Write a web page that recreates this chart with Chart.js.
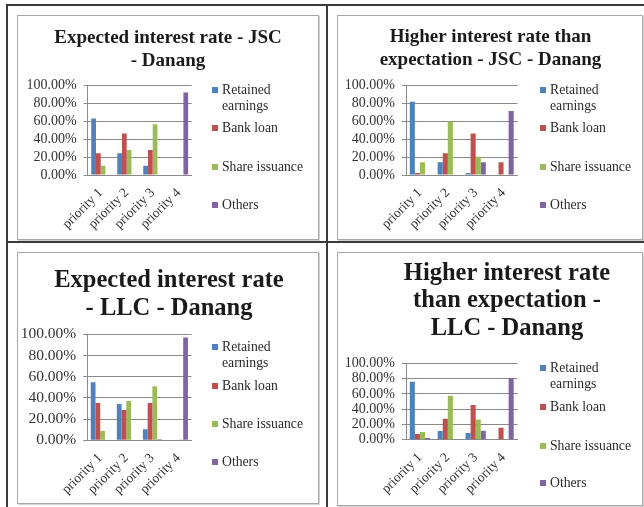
<!DOCTYPE html>
<html>
<head>
<meta charset="utf-8">
<script src="https://cdn.jsdelivr.net/npm/chart.js@4.4.1/dist/chart.umd.min.js"></script>
<style>
  html, body { margin: 0; padding: 0; background: #fff; }
  body { width: 644px; height: 507px; position: relative; overflow: hidden; }
  .rule { position: absolute; background: #3a3a3a; }
  .box { position: absolute; border: 1px solid #a8a8a8; box-shadow: 1px 1px 0 #d4d4d4; box-sizing: border-box; }
  canvas { position: absolute; }
</style>
</head>
<body>
<div class="rule" style="left:6px;top:4px;width:638px;height:2px"></div>
<div class="rule" style="left:6px;top:4px;width:2px;height:503px"></div>
<div class="rule" style="left:326px;top:4px;width:2px;height:503px"></div>
<div class="rule" style="left:6px;top:241px;width:638px;height:2px"></div>

<div class="box" style="left:17px;top:15px;width:302px;height:225px"></div>
<div class="box" style="left:337px;top:15px;width:306px;height:225px"></div>
<div class="box" style="left:17px;top:252px;width:302px;height:252px"></div>
<div class="box" style="left:337px;top:252px;width:306px;height:254px"></div>

<script>
// categories and series
const categories = ['priority 1', 'priority 2', 'priority 3', 'priority 4'];
const seriesNames = ['Retained earnings', 'Bank loan', 'Share issuance', 'Others'];
const seriesColors = ['#4F81BD', '#C0504D', '#9BBB59', '#8064A2'];
const yTicks = [0, 20, 40, 60, 80, 100];

// Expected interest rate - JSC - Danang (percent)
const jscExpRetained = [63.4, 24.3, 10.4, 0];
const jscExpBank = [24.3, 46.6, 28.0, 0];
const jscExpShare = [10.4, 28.0, 56.7, 0];
const jscExpOthers = [0, 0, 0, 92.5];

// Higher interest rate than expectation - JSC - Danang
const jscHighRetained = [82.0, 14.2, 2.2, 0];
const jscHighBank = [2.2, 24.3, 46.6, 14.2];
const jscHighShare = [14.2, 59.7, 20.5, 0];
const jscHighOthers = [0, 0, 14.2, 71.6];

// Expected interest rate - LLC - Danang
const llcExpRetained = [54.7, 34.3, 10.4, 0];
const llcExpBank = [35.2, 28.6, 35.2, 0];
const llcExpShare = [8.8, 37.1, 50.9, 0.8];
const llcExpOthers = [0, 0, 1.0, 96.9];

// Higher interest rate than expectation - LLC - Danang
const llcHighRetained = [76.0, 11.4, 8.7, 0];
const llcHighBank = [7.4, 27.5, 45.4, 15.7];
const llcHighShare = [10.0, 57.6, 26.6, 0];
const llcHighOthers = [2.2, 0, 11.8, 80.3];

const SERIF = "'Liberation Serif', 'Times New Roman', serif";

// canvas covers the inside of each framed box; numbers below are local to it
const panels = [
  {
    title: ['Expected interest rate - JSC', '- Danang'],
    series: [jscExpRetained, jscExpBank, jscExpShare, jscExpOthers],
    canvas: { left: 18, top: 16, w: 300, h: 223 },
    titleX: 150, titleYs: [26.7, 50], titleSize: 19,
    yWidth: 69.7, padTop: 69.7, padRight: 126.3, xHeight: 64, tickSize: 14,
    legend: { x: 194, ys: [74, 112, 151, 189] }
  },
  {
    title: ['Higher interest rate than', 'expectation - JSC - Danang'],
    series: [jscHighRetained, jscHighBank, jscHighShare, jscHighOthers],
    canvas: { left: 338, top: 16, w: 304, h: 223 },
    titleX: 152.5, titleYs: [25.7, 49], titleSize: 19,
    yWidth: 68, padTop: 69.7, padRight: 124.5, xHeight: 64, tickSize: 14,
    legend: { x: 202, ys: [74, 112, 151, 189] }
  },
  {
    title: ['Expected interest rate', '- LLC - Danang'],
    series: [llcExpRetained, llcExpBank, llcExpShare, llcExpOthers],
    canvas: { left: 18, top: 253, w: 300, h: 250 },
    titleX: 151, titleYs: [33.7, 62], titleSize: 24.5,
    yWidth: 69.2, padTop: 81.3, padRight: 126.5, xHeight: 62.7, tickSize: 15.5,
    legend: { x: 194, ys: [94, 133, 171, 209] }
  },
  {
    title: ['Higher interest rate', 'than expectation -', 'LLC - Danang'],
    series: [llcHighRetained, llcHighBank, llcHighShare, llcHighOthers],
    canvas: { left: 338, top: 253, w: 304, h: 252 },
    titleX: 169, titleYs: [27, 53.7, 82], titleSize: 24.5,
    yWidth: 68, padTop: 110.3, padRight: 124.5, xHeight: 65.3, tickSize: 14,
    legend: { x: 202, ys: [115, 154, 193, 230] }
  }
];

// wrap a legend label into lines that fit maxW
function wrapText(ctx, text, maxW) {
  const words = text.split(' ');
  const lines = [];
  let cur = '';
  words.forEach(w => {
    const test = cur ? cur + ' ' + w : w;
    if (cur && ctx.measureText(test).width > maxW) {
      lines.push(cur);
      cur = w;
    } else {
      cur = test;
    }
  });
  if (cur) lines.push(cur);
  return lines;
}

// draws the title lines and the legend of a panel
const panelText = {
  id: 'panelText',
  afterDraw(chart, args, opts) {
    const p = opts.panel;
    const ctx = chart.ctx;
    ctx.save();
    ctx.fillStyle = '#1a1a1a';
    ctx.textAlign = 'center';
    ctx.textBaseline = 'alphabetic';
    ctx.font = 'bold ' + p.titleSize + 'px ' + SERIF;
    p.title.forEach((line, i) => ctx.fillText(line, p.titleX, p.titleYs[i]));

    ctx.font = '13.7px ' + SERIF;
    ctx.textAlign = 'left';
    ctx.textBaseline = 'middle';
    chart.data.datasets.forEach((ds, i) => {
      const y = p.legend.ys[i];
      ctx.fillStyle = ds.backgroundColor;
      ctx.fillRect(p.legend.x, y - 3, 6, 6);
      ctx.fillStyle = '#2a2a2a';
      wrapText(ctx, ds.label, 92).forEach((line, k) => {
        ctx.fillText(line, p.legend.x + 10, y + k * 16);
      });
    });
    ctx.restore();
  }
};

panels.forEach(p => {
  const cv = document.createElement('canvas');
  cv.width = p.canvas.w;
  cv.height = p.canvas.h;
  cv.style.left = p.canvas.left + 'px';
  cv.style.top = p.canvas.top + 'px';
  cv.style.width = p.canvas.w + 'px';
  cv.style.height = p.canvas.h + 'px';
  document.body.appendChild(cv);

  new Chart(cv.getContext('2d'), {
    type: 'bar',
    data: {
      labels: categories,
      datasets: p.series.map((vals, i) => ({
        label: seriesNames[i],
        data: vals,
        backgroundColor: seriesColors[i],
        borderWidth: 0,
        categoryPercentage: 0.727,
        barPercentage: 1.0
      }))
    },
    options: {
      responsive: false,
      animation: false,
      devicePixelRatio: 1,
      layout: { padding: { top: p.padTop, right: p.padRight, left: 0, bottom: 0 } },
      plugins: {
        legend: { display: false },
        tooltip: { enabled: false },
        panelText: { panel: p }
      },
      scales: {
        x: {
          afterFit: s => { s.height = p.xHeight; },
          grid: { display: false },
          border: { display: true, color: '#8a8a8a', width: 1 },
          ticks: {
            autoSkip: false, maxRotation: 45, minRotation: 45, padding: 2,
            color: '#333', font: { family: SERIF, size: 13.5 }
          }
        },
        y: {
          min: 0, max: 100,
          afterFit: s => { s.width = p.yWidth; },
          afterBuildTicks: s => { s.ticks = yTicks.map(v => ({ value: v })); },
          grid: { color: '#8a8a8a', lineWidth: 1, tickLength: 4 },
          border: { display: true, color: '#8a8a8a', width: 1 },
          ticks: {
            autoSkip: false, padding: 7, color: '#333',
            font: { family: SERIF, size: p.tickSize },
            callback: v => v.toFixed(2) + '%'
          }
        }
      }
    },
    plugins: [panelText]
  });
});
</script>
</body>
</html>
